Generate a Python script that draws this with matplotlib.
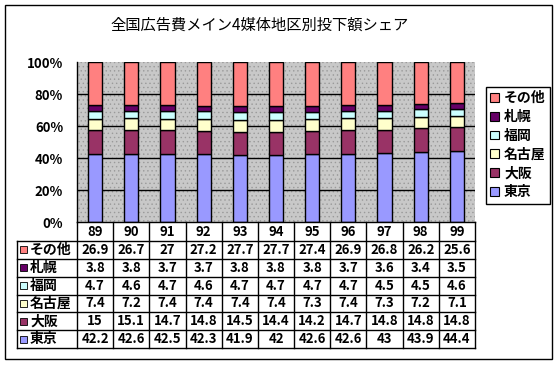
import matplotlib.pyplot as plt
import numpy as np
from matplotlib.patches import Patch, Rectangle

plt.rcParams["font.family"] = ["Noto Sans CJK JP", "DejaVu Sans"]
plt.rcParams["hatch.color"] = "#9a9a9a"
plt.rcParams["hatch.linewidth"] = 0.5

years = ["89", "90", "91", "92", "93", "94", "95", "96", "97", "98", "99"]
regions = ["東京", "大阪", "名古屋", "福岡", "札幌", "その他"]
tokyo = [42.2, 42.6, 42.5, 42.3, 41.9, 42, 42.6, 42.6, 43, 43.9, 44.4]
osaka = [15, 15.1, 14.7, 14.8, 14.5, 14.4, 14.2, 14.7, 14.8, 14.8, 14.8]
nagoya = [7.4, 7.2, 7.4, 7.4, 7.4, 7.4, 7.3, 7.4, 7.3, 7.2, 7.1]
fukuoka = [4.7, 4.6, 4.7, 4.6, 4.7, 4.7, 4.7, 4.7, 4.5, 4.5, 4.6]
sapporo = [3.8, 3.8, 3.7, 3.7, 3.8, 3.8, 3.8, 3.7, 3.6, 3.4, 3.5]
others = [26.9, 26.7, 27, 27.2, 27.7, 27.7, 27.4, 26.9, 26.8, 26.2, 25.6]
series = [tokyo, osaka, nagoya, fukuoka, sapporo, others]
colors = ["#9999ff", "#993366", "#ffffcc", "#ccffff", "#660066", "#ff8080"]

W, H = 559, 367


def fx(px):
    return px / W


def fy(py):
    return 1 - py / H


fig = plt.figure(figsize=(W / 100, H / 100), dpi=100)
fig.patch.set_facecolor("white")

# outer frame
fig.patches.append(Rectangle((fx(5), fy(359)), fx(552) - fx(5), fy(5) - fy(359),
                             transform=fig.transFigure, fill=False,
                             edgecolor="black", lw=1))

fig.text(fx(260), fy(25), "全国広告費メイン4媒体地区別投下額シェア",
         ha="center", va="center", fontsize=11)

# plot area
left, right, top, bottom = 77, 475, 62, 222
ax = fig.add_axes([fx(left), fy(bottom), fx(right) - fx(left), fy(top) - fy(bottom)])
ax.set_facecolor("#c8c8c8")
ax.add_patch(Rectangle((0, 0), 1, 1, transform=ax.transAxes, facecolor="none",
                       hatch="....", lw=0, zorder=0))

x = np.arange(len(years))
totals = np.sum(series, axis=0)
base = np.zeros(len(years))
for vals, c in zip(series, colors):
    share = np.array(vals) / totals * 100
    ax.bar(x, share, bottom=base, width=0.39, color=c, edgecolor="black",
           lw=1, zorder=3)
    base += share

ax.set_xlim(-0.5, len(years) - 0.5)
ax.set_ylim(0, 100)
ax.set_yticks([0, 20, 40, 60, 80, 100])
ax.set_yticklabels(["0%", "20%", "40%", "60%", "80%", "100%"],
                   fontsize=9.5, fontweight="bold")
ax.tick_params(axis="y", length=0, pad=10)
ax.set_xticks([])
for g in [20, 40, 60, 80]:
    ax.axhline(g, color="black", lw=1, zorder=1)
for s in ["top", "right", "bottom"]:
    ax.spines[s].set_visible(False)
ax.spines["left"].set_linewidth(1)

# data table
tleft, tbottom = 17, 348
unit = (right - left) / len(years)
tab = fig.add_axes([fx(tleft), fy(tbottom), fx(right) - fx(tleft), fy(bottom) - fy(tbottom)])
tab.set_xlim(-0.5 - (left - tleft) / unit, len(years) - 0.5)
tab.set_ylim(tbottom - bottom, 0)
tab.axis("off")

head_h = 19
row_h = (tbottom - bottom - head_h) / len(regions)
xl = -0.5 - (left - tleft) / unit
kw = dict(color="black", lw=1, clip_on=False)
tab.plot([-0.5, len(years) - 0.5], [0, 0], **kw)
for i in range(len(years) + 1):
    tab.plot([i - 0.5, i - 0.5], [0, tbottom - bottom], **kw)
tab.plot([xl, xl], [head_h, tbottom - bottom], **kw)
for r in range(len(regions) + 1):
    tab.plot([xl, len(years) - 0.5], [head_h + r * row_h] * 2, **kw)

for i, yr in enumerate(years):
    tab.text(i, head_h / 2, yr, ha="center", va="center", fontsize=9.5,
             fontweight="bold")

sq = 7 / unit
for r, k in enumerate(reversed(range(len(regions)))):
    yc = head_h + (r + 0.5) * row_h
    tab.add_patch(Rectangle((xl + 3 / unit, yc - 3.5), sq, 7, facecolor=colors[k],
                            edgecolor="black", lw=0.6, clip_on=False))
    tab.text(xl + 13 / unit, yc, regions[k], ha="left", va="center",
             fontsize=10, fontweight="bold")
    for i, v in enumerate(series[k]):
        tab.text(i, yc, f"{v:g}", ha="center", va="center", fontsize=9.5,
                 fontweight="bold")

# legend
handles = [Patch(facecolor=colors[k], edgecolor="black", lw=0.8)
           for k in reversed(range(len(regions)))]
labels = [regions[k] for k in reversed(range(len(regions)))]
leg = fig.legend(handles, labels, loc="upper left",
                 bbox_to_anchor=(fx(486), fy(87)), frameon=True,
                 fancybox=False, edgecolor="black", framealpha=1,
                 handlelength=0.6, handleheight=0.6, handletextpad=0.4,
                 labelspacing=0.35, borderpad=0.3, borderaxespad=0,
                 prop=dict(size=10, weight="bold"))
leg.get_frame().set_linewidth(1)

fig.savefig("out.png", dpi=100)
